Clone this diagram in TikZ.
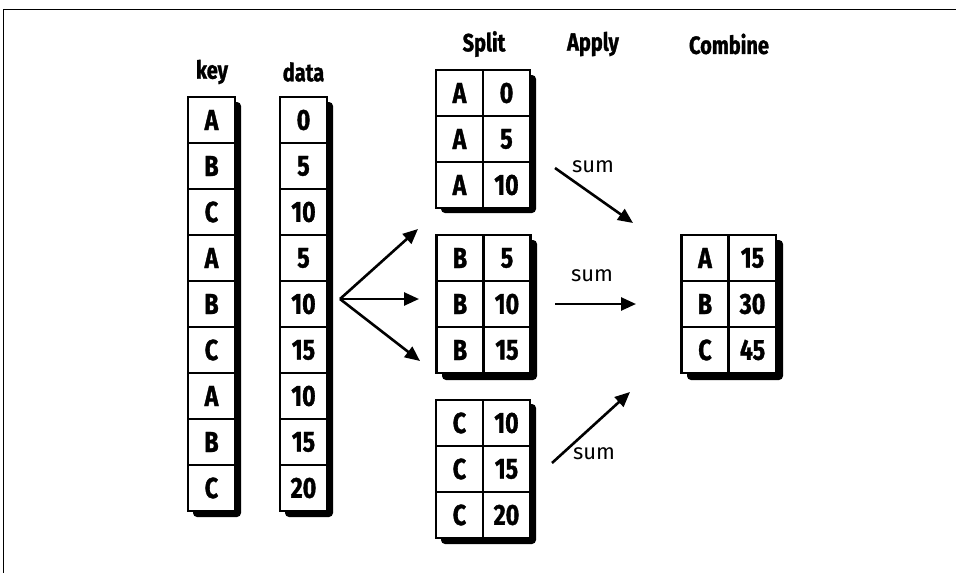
\documentclass[tikz,border=0pt]{standalone}
\usepackage{fontspec}
\setmainfont{Fira Sans}[FakeStretch=0.8, BoldFeatures={FakeBold=1.2}]
\newfontfamily\sumfont{Fira Sans}
\usetikzlibrary{arrows.meta}
\tikzset{
  cell/.style={draw, line width=2.2pt, minimum width=47pt, minimum height=46pt, inner sep=0pt, font=\bfseries\fontsize{29}{29}\selectfont, fill=white},
  title/.style={font=\bfseries\fontsize{25}{25}\selectfont},
  sumlbl/.style={font=\sumfont\fontsize{22}{22}\selectfont},
  shadowbox/.style={fill=black, rounded corners=4pt},
  arr/.style={line width=2.6pt, -{Stealth[length=15pt,width=13pt,inset=0pt]}},
}
\begin{document}
\begin{tikzpicture}[x=1pt,y=-1pt]
\useasboundingbox (0,0) rectangle (956,573);
\draw[line width=1pt] (3,573) -- (3,9) -- (956,9);
% titles
\node[title] (tkey) at (212,72) {key};
\node[title] (tdata) at (303.5,72) {data};
\node[title] (tsplit) at (484,44) {Split};
\node[title] (tapply) at (593,44) {Apply};
\node[title] (tcomb) at (729,44) {Combine};
% key / data columns
\fill[shadowbox] (193,102) rectangle (241,517);
\fill[shadowbox] (285,102) rectangle (333,517);
\foreach \k/\d [count=\i from 0] in {A/0,B/5,C/10,A/5,B/10,C/15,A/10,B/15,C/20}{
  \node[cell] (k\i) at (211.5,{120+46*\i}) {\k};
  \node[cell] (d\i) at (303.5,{120+46*\i}) {\d};
}
% split tables
\fill[shadowbox] (441,75) rectangle (536,213);
\fill[shadowbox] (442,240) rectangle (537,380);
\fill[shadowbox] (441,404) rectangle (536,544);
\foreach \v [count=\i from 0] in {0,5,10}{
  \node[cell] (sa\i) at (459.5,{93+46*\i}) {A};
  \node[cell] (sav\i) at (506.5,{93+46*\i}) {\v};
}
\foreach \v [count=\i from 0] in {5,10,15}{
  \node[cell] (sb\i) at (460,{258+46*\i}) {B};
  \node[cell] (sbv\i) at (507,{258+46*\i}) {\v};
}
\foreach \v [count=\i from 0] in {10,15,20}{
  \node[cell] (sc\i) at (459.5,{423+46*\i}) {C};
  \node[cell] (scv\i) at (506.5,{423+46*\i}) {\v};
}
% combine table
\fill[shadowbox] (687,240) rectangle (783,380);
\foreach \k/\v [count=\i from 0] in {A/15,B/30,C/45}{
  \node[cell] (ck\i) at (705,{258+46*\i}) {\k};
  \node[cell] (cv\i) at (752.5,{258+46*\i}) {\v};
}
% split arrows
\coordinate (fork) at (340,299);
\coordinate (toA) at (418,229);
\coordinate (toB) at (419,299);
\coordinate (toC) at (420,361);
\draw[arr] (fork) -- (toA);
\draw[arr] (fork) -- (toB);
\draw[arr] (fork) -- (toC);
% apply arrows
\coordinate (sA1) at (555,168);
\coordinate (sA2) at (633,223);
\coordinate (sB1) at (555,304);
\coordinate (sB2) at (636,304);
\coordinate (sC1) at (552,463);
\coordinate (sC2) at (630,392);
\draw[arr] (sA1) -- (sA2);
\draw[arr] (sB1) -- (sB2);
\draw[arr] (sC1) -- (sC2);
\node[sumlbl] (sumA) at (593,167) {sum};
\node[sumlbl] (sumB) at (592,276) {sum};
\node[sumlbl] (sumC) at (594,454) {sum};
\end{tikzpicture}
\end{document}
